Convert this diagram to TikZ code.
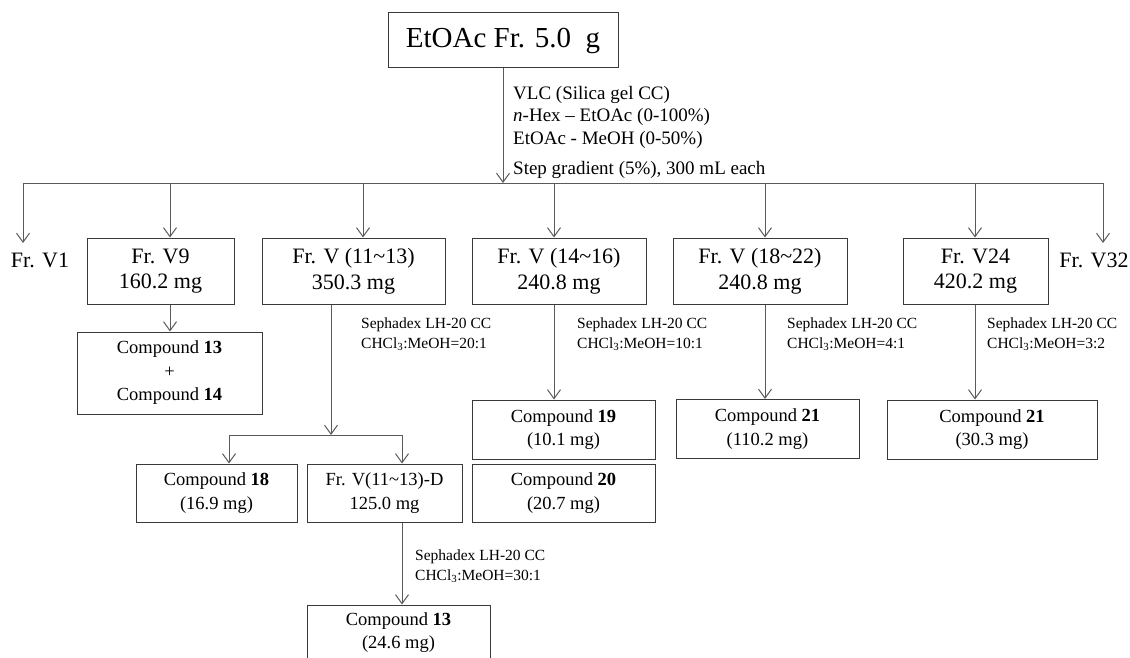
\documentclass[tikz,border=0pt]{standalone}
\usepackage{fontspec}
\setmainfont{Liberation Serif}
\usetikzlibrary{arrows.meta}

\definecolor{linec}{HTML}{5A5A5A}
\definecolor{boxc}{HTML}{3A3A3A}

\newcommand{\topfnt}{\fontsize{29}{34}\selectfont}
\newcommand{\frfnt}{\fontsize{22}{25.5}\selectfont}
\newcommand{\cpfnt}{\fontsize{18.5}{23.5}\selectfont}
\newcommand{\labfnt}{\fontsize{15.5}{20}\selectfont}
\newcommand{\vlcfnt}{\fontsize{19}{22.5}\selectfont}

\begin{document}
\begin{tikzpicture}[x=1pt,y=-1pt,
  frbox/.style 2 args={draw=boxc, line width=1pt, minimum width=#1, minimum height=#2,
    inner sep=0pt, align=center, font=\frfnt},
  cpbox/.style 2 args={draw=boxc, line width=1pt, minimum width=#1, minimum height=#2,
    inner sep=0pt, align=center, font=\cpfnt},
  plain/.style={inner sep=0pt, font=\frfnt},
  lab/.style={inner sep=0pt, anchor=west, align=left, font=\labfnt},
  conn/.style={draw=linec, line width=1pt},
  arr/.style={conn, -{Straight Barb[length=9pt,width=13pt,line width=1pt]}}
]
\useasboundingbox (0,0) rectangle (1130,658);

% starting fraction
\node[frbox={230pt}{55pt}, font=\topfnt] (top) at (503,40.5) {EtOAc Fr. 5.0\ \ g};

% first-level fractions
\node[plain] (fv1) at (40,260) {Fr. V1};
\node[plain] (fv32) at (1094,260) {Fr. V32};
\node[frbox={147pt}{66pt}] (v9) at (160.5,271) {Fr. V9\\160.2 mg};
\node[frbox={183pt}{66pt}] (v1113) at (353.5,271) {Fr. V (11\textasciitilde13)\\350.3 mg};
\node[frbox={174pt}{66pt}] (v1416) at (559,271) {Fr. V (14\textasciitilde16)\\240.8 mg};
\node[frbox={174pt}{66pt}] (v1822) at (760,271) {Fr. V (18\textasciitilde22)\\240.8 mg};
\node[frbox={145pt}{66pt}] (v24) at (975.5,271) {Fr. V24\\420.2 mg};

% isolated compounds and sub-fractions
\node[cpbox={185pt}{82pt}] (c1314) at (169.5,373) {Compound \textbf{13}\\+\\Compound \textbf{14}};
\node[cpbox={161pt}{58pt}] (c18) at (216.5,493) {Compound \textbf{18}\\(16.9 mg)};
\node[cpbox={155pt}{58pt}] (vd) at (384.5,493) {Fr. V(11\textasciitilde13)-D\\125.0 mg};
\node[cpbox={183pt}{55pt}] (c13) at (398.5,632.5) {Compound \textbf{13}\\(24.6 mg)};
\node[cpbox={183pt}{59pt}] (c19) at (563.5,429.5) {Compound \textbf{19}\\(10.1 mg)};
\node[cpbox={183pt}{58pt}] (c20) at (563.5,493) {Compound \textbf{20}\\(20.7 mg)};
\node[cpbox={183pt}{59pt}] (c21a) at (767.5,429) {Compound \textbf{21}\\(110.2 mg)};
\node[cpbox={210pt}{59pt}] (c21b) at (992,429.5) {Compound \textbf{21}\\(30.3 mg)};

% separation conditions
\node[lab, font=\vlcfnt] (vlc) at (513,132) {VLC (Silica gel CC)\\
  \textit{n}-Hex -- EtOAc (0-100\%)\\
  EtOAc - MeOH (0-50\%)\\[7.5pt]
  Step gradient (5\%), 300 mL each};
\node[lab] (s1) at (361,334) {Sephadex LH-20 CC\\CHCl\textsubscript{3}:MeOH=20:1};
\node[lab] (s2) at (577,334) {Sephadex LH-20 CC\\CHCl\textsubscript{3}:MeOH=10:1};
\node[lab] (s3) at (787,334) {Sephadex LH-20 CC\\CHCl\textsubscript{3}:MeOH=4:1};
\node[lab] (s4) at (987,334) {Sephadex LH-20 CC\\CHCl\textsubscript{3}:MeOH=3:2};
\node[lab] (s5) at (415,566) {Sephadex LH-20 CC\\CHCl\textsubscript{3}:MeOH=30:1};

% distribution bus
\coordinate (hub) at (503,183);
\coordinate (b1) at (23,183);
\coordinate (b2) at (170,183);
\coordinate (b3) at (363,183);
\coordinate (b4) at (554,183);
\coordinate (b5) at (765,183);
\coordinate (b6) at (975,183);
\coordinate (b7) at (1103,183);
\coordinate (t1) at (23,243);
\coordinate (t7) at (1103,243);

\draw[arr] (top.south -| hub) -- (hub);
\draw[conn] (b1) -- (b7);
\draw[arr] (b1) -- (t1);
\draw[arr] (b7) -- (t7);
\draw[arr] (b2) -- (b2 |- v9.north);
\draw[arr] (b3) -- (b3 |- v1113.north);
\draw[arr] (b4) -- (b4 |- v1416.north);
\draw[arr] (b5) -- (b5 |- v1822.north);
\draw[arr] (b6) -- (b6 |- v24.north);

% second-level steps
\draw[arr] (v9.south -| b2) -- (c1314.north -| b2);
\draw[arr] (v1416.south -| b4) -- (c19.north -| b4);
\draw[arr] (v1822.south -| b5) -- (c21a.north -| b5);
\draw[arr] (v24.south -| b6) -- (c21b.north -| b6);

% split of Fr. V (11~13)
\coordinate (sp) at (331,435);
\coordinate (spl) at (229,435);
\coordinate (spr) at (402,435);
\draw[arr] (v1113.south -| sp) -- (sp);
\draw[conn] (spl) -- (spr);
\draw[arr] (spl) -- (spl |- c18.north);
\draw[arr] (spr) -- (spr |- vd.north);
\draw[arr] (vd.south -| spr) -- (c13.north -| spr);
\end{tikzpicture}
\end{document}
